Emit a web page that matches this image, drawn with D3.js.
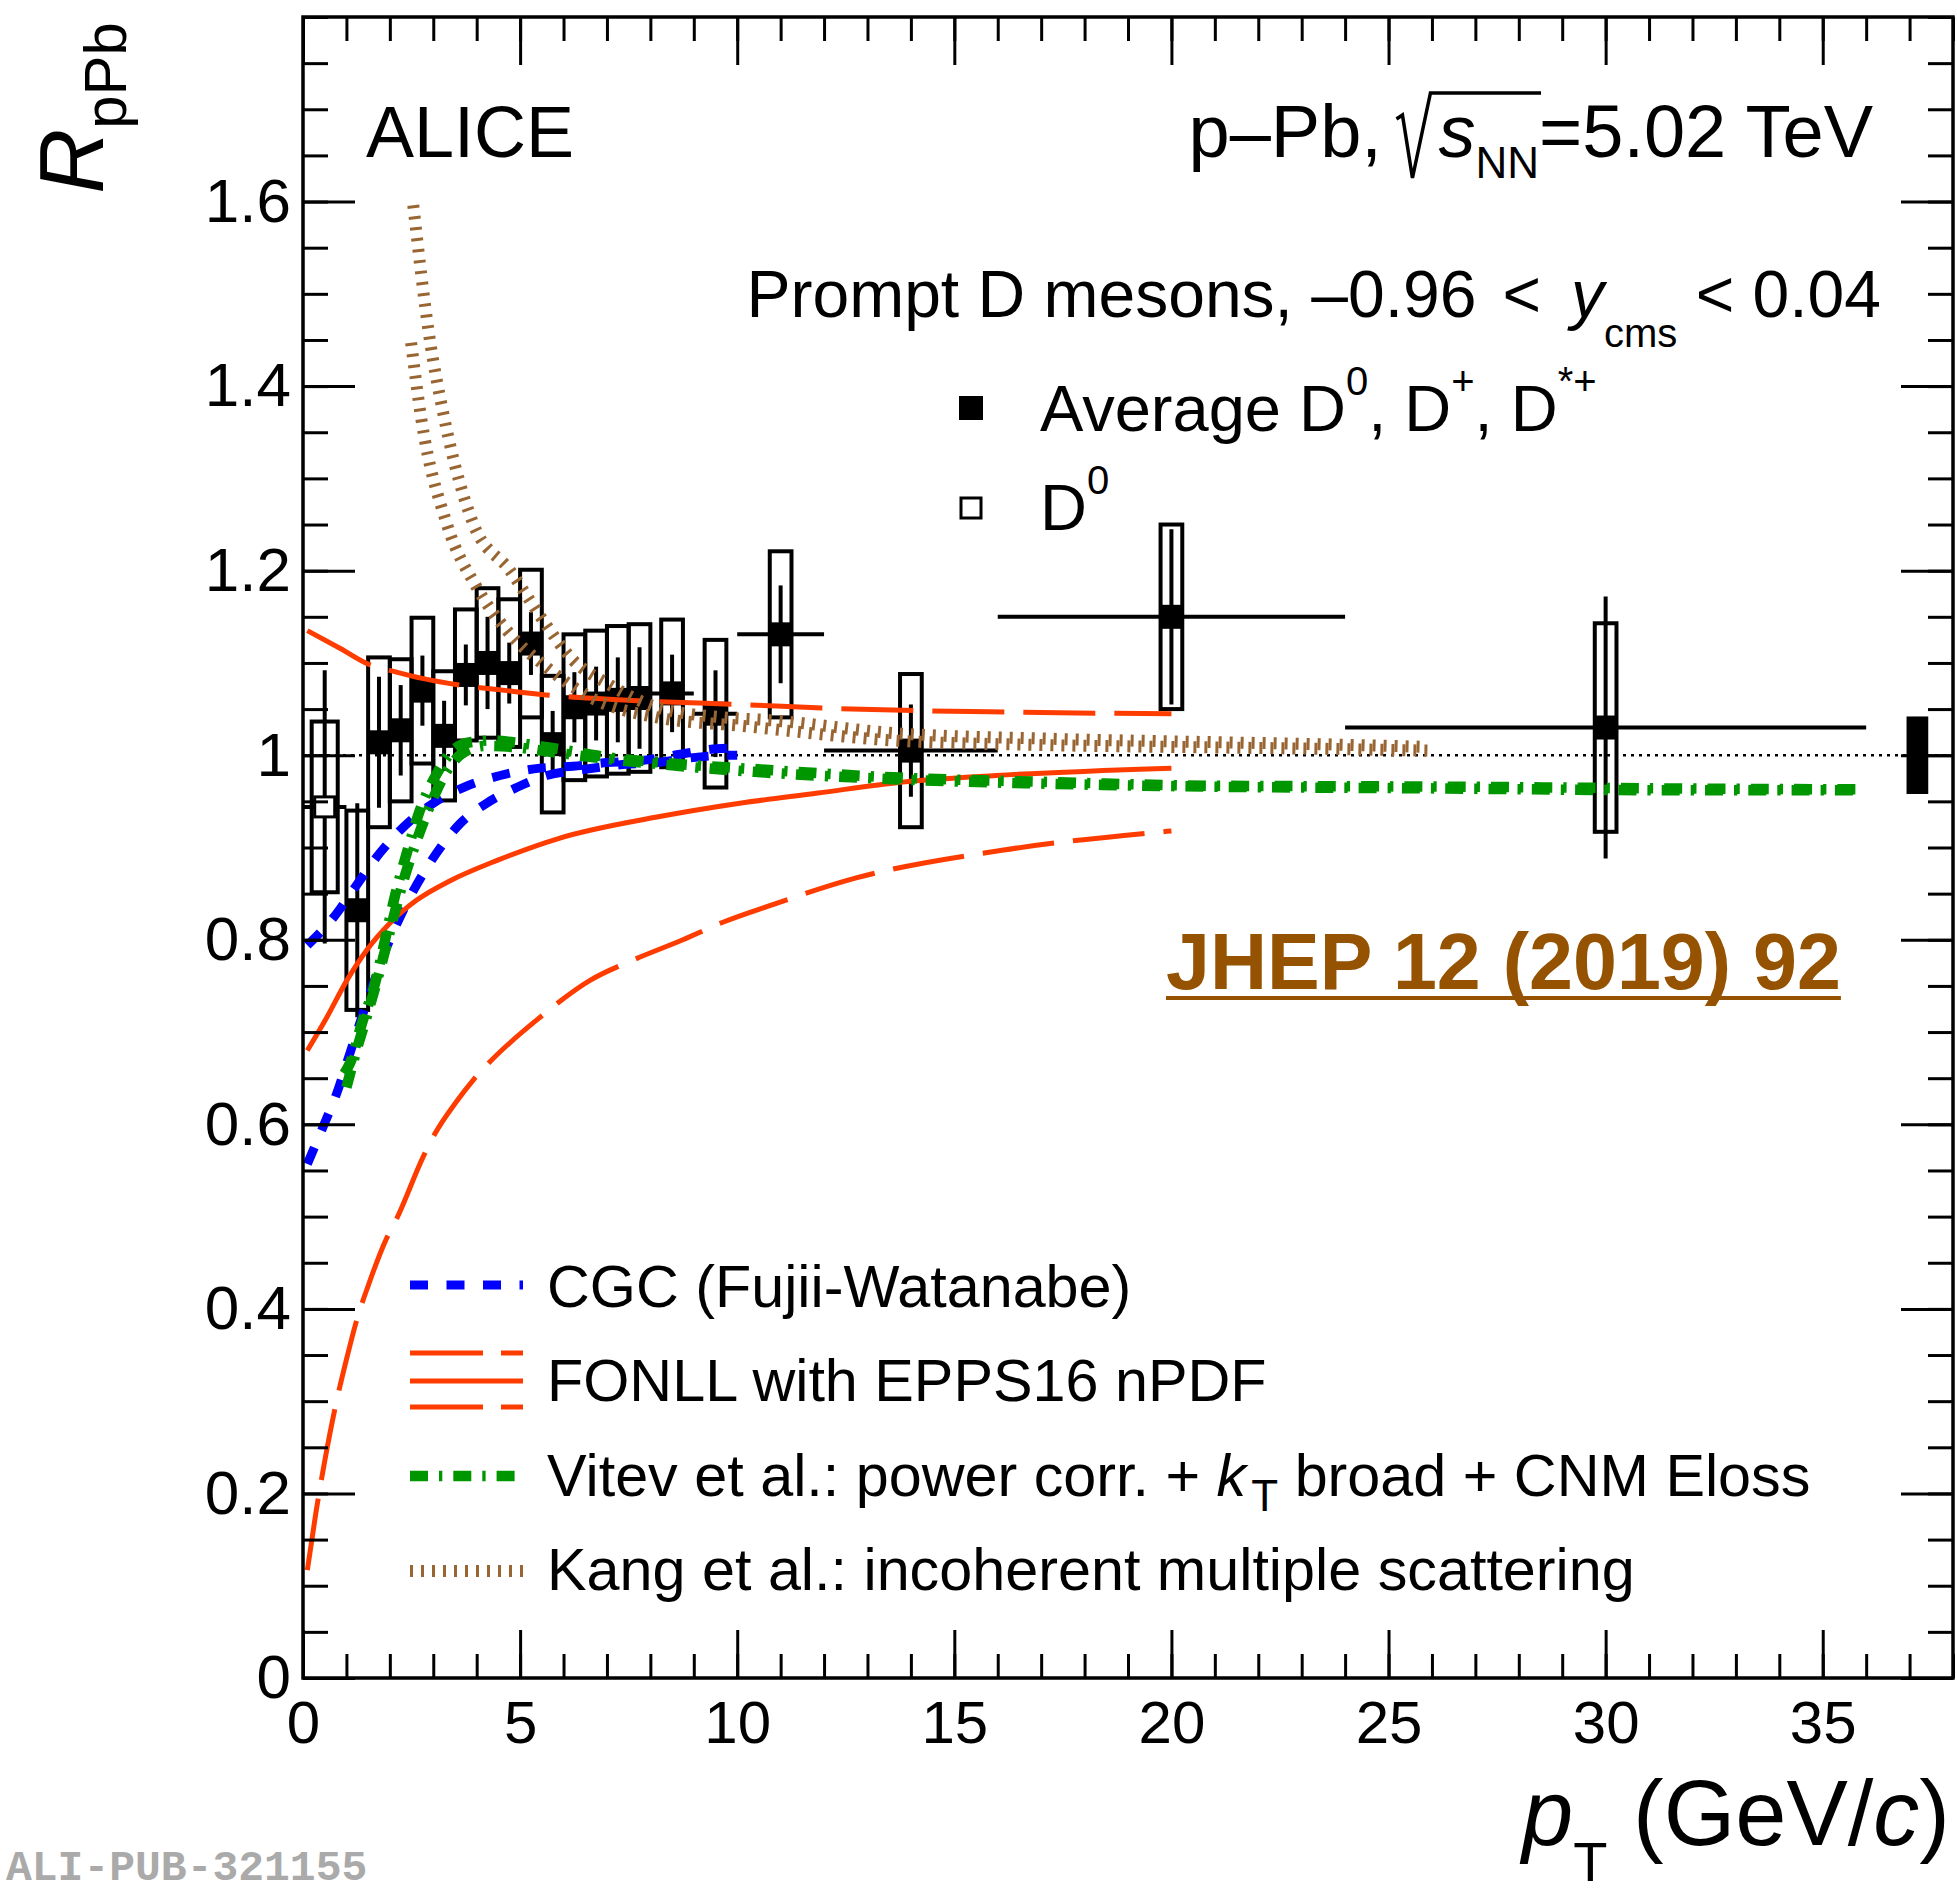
<!DOCTYPE html>
<html><head><meta charset="utf-8">
<script src="https://cdn.jsdelivr.net/npm/d3@7"></script>
<style>
body{margin:0;background:#fff}
svg{display:block}
text{font-family:"Liberation Sans",Arial,Helvetica,sans-serif;white-space:pre}
</style>
</head><body>
<svg id="c" width="1957" height="1895"></svg>
<script>
// ---------------- data ----------------
const xMajorTicks = [0,5,10,15,20,25,30,35];
const xTickLabels = ["0","5","10","15","20","25","30","35"];
const yMajorTicks = [0,0.2,0.4,0.6,0.8,1.0,1.2,1.4,1.6];
const yTickLabels = ["0","0.2","0.4","0.6","0.8","1","1.2","1.4","1.6"];

// Average D0, D+, D*+
const avgPt     = [1.25,1.75,2.25,2.75,3.25,3.75,4.25,4.75,5.25,5.75,6.25,6.75,7.25,7.75,8.5,9.5,11,14,20,30];
const avgPtLow  = [1,1.5,2,2.5,3,3.5,4,4.5,5,5.5,6,6.5,7,7.5,8,9,10,12,16,24];
const avgPtHigh = [1.5,2,2.5,3,3.5,4,4.5,5,5.5,6,6.5,7,7.5,8,9,10,12,16,24,36];
const avgR      = [0.832,1.014,1.027,1.070,1.021,1.087,1.100,1.089,1.121,1.012,1.052,1.056,1.060,1.062,1.067,1.045,1.131,1.005,1.150,1.030];
const avgStat   = [0.116,0.071,0.049,0.038,0.038,0.033,0.050,0.033,0.034,0.036,0.038,0.040,0.046,0.055,0.042,0.047,0.053,0.050,0.095,0.142];
const avgSyst   = [0.108,0.092,0.077,0.079,0.070,0.071,0.081,0.080,0.080,0.074,0.079,0.079,0.080,0.080,0.080,0.080,0.090,0.083,0.100,0.113];

// D0 only
const d0Pt = [0.5], d0PtLow = [0], d0PtHigh = [1];
const d0R = [0.944], d0Stat = [0.148], d0Syst = [0.0925];

// global normalisation uncertainty
const normPt = [37.18], normUnc = [0.042];

// CGC (Fujii-Watanabe)
const cgcHiPt = [0.1,0.7,1.23,1.77,2.31,3.0,3.69,4.54,5.46,6.22,7.0,7.76,8.68,9.53,10];
const cgcHiR  = [0.794,0.824,0.859,0.894,0.922,0.948,0.965,0.978,0.986,0.988,0.992,0.994,1.001,1.007,1.008];
const cgcLoPt = [0.1,0.46,0.78,1.08,1.54,1.93,2.31,2.92,3.62,4.23,4.92,5.61,6.53,7.37,8.15,8.9,9.83,10];
const cgcLoR  = [0.557,0.597,0.634,0.677,0.742,0.792,0.832,0.883,0.926,0.948,0.965,0.978,0.985,0.990,0.992,0.997,1.000,1.000];

// FONLL with EPPS16
const fonllHiPt = [0.1,0.85,1.54,2.0,2.77,3.62,4.7,5.69,7.76,10.06,12,15.8,20];
const fonllHiR  = [1.135,1.116,1.098,1.092,1.083,1.076,1.070,1.065,1.059,1.055,1.051,1.047,1.045];
const fonllCePt = [0.1,0.55,1.01,1.47,2.0,2.62,3.39,4.47,5.9,8.15,10.06,11.86,13.63,15.96,20];
const fonllCeR  = [0.680,0.716,0.756,0.789,0.818,0.843,0.864,0.886,0.910,0.933,0.948,0.959,0.970,0.978,0.986];
const fonllLoPt = [0.1,0.3,0.5,0.75,1.0,1.25,1.5,1.93,2.16,2.77,3.04,3.54,3.92,4.31,5.46,6.61,7.6,8.75,9.67,10.75,12.74,16.1,20];
const fonllLoR  = [0.117,0.180,0.235,0.295,0.345,0.390,0.425,0.477,0.498,0.565,0.590,0.625,0.648,0.668,0.716,0.756,0.778,0.800,0.819,0.837,0.867,0.897,0.918];

// Vitev et al.
const vitAPt = [0.95,1.08,1.36,1.66,1.89,2.12,2.39,2.69,3.08,3.45,3.85,4.38,4.84,5.85,7.0,8.5,10.4,13.6,17.2,20.8,26.2,31.5,35.9];
const vitAR  = [0.655,0.666,0.710,0.753,0.800,0.848,0.894,0.940,0.980,1.005,1.014,1.016,1.014,1.007,0.998,0.991,0.985,0.976,0.971,0.967,0.966,0.964,0.963];
const vitBPt = [1.0,1.2,1.5,1.8,2.05,2.3,2.6,2.95,3.3,3.7,4.2,4.8,5.8,7.0,8.5,10.4,13.6,17.2,20.8,26.2,31.5,35.9];
const vitBR  = [0.640,0.675,0.722,0.772,0.818,0.862,0.905,0.948,0.982,1.003,1.010,1.009,1.003,0.996,0.989,0.982,0.974,0.969,0.966,0.964,0.962,0.962];

// Kang et al.
const kangHiPt = [2.54,2.9,3.25,3.92,4.77,5.53,6.22,7.0,8.15,9.67,10.75,13.6,17.1,20,23.4,25.9];
const kangHiR  = [1.596,1.457,1.366,1.251,1.200,1.146,1.103,1.078,1.052,1.041,1.038,1.024,1.018,1.015,1.012,1.009];
const kangLoPt = [2.49,2.72,3.31,4.0,4.7,5.62,6.61,8.15,10.06,13.6,17.1,20,23.4,25.9];
const kangLoR  = [1.447,1.366,1.251,1.182,1.135,1.095,1.063,1.041,1.032,1.016,1.011,1.009,1.007,1.005];

// ---------------- drawing ----------------
const W = 1957, H = 1895;
const plotL = 303, plotR = 1953, plotT = 17, plotB = 1678;
const svg = d3.select('#c');
svg.append('rect').attr('width', W).attr('height', H).attr('fill', '#fff');

const x = d3.scaleLinear().domain([0, 38]).range([plotL, plotR]);
const y = d3.scaleLinear().domain([0, 1.8]).range([plotB, plotT]);

const C_BLUE = '#0000ff', C_RED = '#ff3c00', C_GREEN = '#009600', C_BROWN = '#996633';

// reference line at 1
svg.append('line').attr('x1', x(0)).attr('x2', x(38)).attr('y1', y(1)).attr('y2', y(1))
  .attr('stroke', '#000').attr('stroke-width', 2.5).attr('stroke-dasharray', '3,5');

// normalisation box
svg.append('g').selectAll('rect').data(d3.zip(normPt, normUnc)).join('rect')
  .attr('x', d => x(d[0] - 0.25)).attr('width', d => x(d[0] + 0.25) - x(d[0] - 0.25))
  .attr('y', d => y(1 + d[1])).attr('height', d => y(1 - d[1]) - y(1 + d[1]))
  .attr('fill', '#000');

function drawSeries(pt, lo, hi, r, stat, syst, boxHalf, filled) {
  const rows = pt.map((p, i) => ({p, lo: lo[i], hi: hi[i], r: r[i], st: stat[i], sy: syst[i]}));
  const g = svg.append('g');
  g.selectAll('rect.sys').data(rows).join('rect').attr('class', 'sys')
    .attr('x', d => x(d.p - boxHalf)).attr('width', d => x(d.p + boxHalf) - x(d.p - boxHalf))
    .attr('y', d => y(d.r + d.sy)).attr('height', d => y(d.r - d.sy) - y(d.r + d.sy))
    .attr('fill', 'none').attr('stroke', '#000').attr('stroke-width', 4);
  g.selectAll('line.st').data(rows).join('line').attr('class', 'st')
    .attr('x1', d => x(d.p)).attr('x2', d => x(d.p))
    .attr('y1', d => y(d.r + d.st)).attr('y2', d => y(d.r - d.st))
    .attr('stroke', '#000').attr('stroke-width', 4);
  g.selectAll('line.ex').data(rows).join('line').attr('class', 'ex')
    .attr('x1', d => x(d.lo)).attr('x2', d => x(d.hi))
    .attr('y1', d => y(d.r)).attr('y2', d => y(d.r))
    .attr('stroke', '#000').attr('stroke-width', 4);
  if (filled) {
    g.selectAll('rect.mk').data(rows).join('rect').attr('class', 'mk')
      .attr('x', d => x(d.p) - 12).attr('y', d => y(d.r) - 12)
      .attr('width', 24).attr('height', 24).attr('fill', '#000');
  } else {
    g.selectAll('rect.mk').data(rows).join('rect').attr('class', 'mk')
      .attr('x', d => x(d.p) - 10).attr('y', d => y(d.r) - 10)
      .attr('width', 20).attr('height', 20).attr('fill', '#fff')
      .attr('stroke', '#000').attr('stroke-width', 3);
  }
}
drawSeries(d0Pt, d0PtLow, d0PtHigh, d0R, d0Stat, d0Syst, 0.3, false);
drawSeries(avgPt, avgPtLow, avgPtHigh, avgR, avgStat, avgSyst, 0.25, true);

// model curves
const lineGen = d3.line().x(d => x(d[0])).y(d => y(d[1])).curve(d3.curveMonotoneX);
function drawCurve(pts, vals, color, width, dash) {
  svg.append('path').attr('d', lineGen(d3.zip(pts, vals)))
    .attr('fill', 'none').attr('stroke', color).attr('stroke-width', width)
    .attr('stroke-dasharray', dash || null);
}
drawCurve(cgcHiPt, cgcHiR, C_BLUE, 9, '18,18.5');
drawCurve(cgcLoPt, cgcLoR, C_BLUE, 9, '18,18.5');
drawCurve(fonllHiPt, fonllHiR, C_RED, 5, '72,19');
drawCurve(fonllCePt, fonllCeR, C_RED, 5, null);
drawCurve(fonllLoPt, fonllLoR, C_RED, 5, '72,19');
drawCurve(vitAPt, vitAR, C_GREEN, 10.5, '18,11,3.3,11');
drawCurve(vitBPt, vitBR, C_GREEN, 10.5, '18,11,3.3,11');
drawCurve(kangHiPt, kangHiR, C_BROWN, 12, '3,8');
drawCurve(kangLoPt, kangLoR, C_BROWN, 12, '3,8');

// axes
function styleAxis(g, fs) {
  g.select('.domain').remove();
  g.selectAll('.tick line').attr('stroke', '#000').attr('stroke-width', 3);
  g.selectAll('.tick text').attr('font-size', fs).attr('fill', '#000');
}
const xMinor = d3.range(0, 39, 1);
const yMinor = d3.range(0, 1.8001, 0.05);
styleAxis(svg.append('g').attr('transform', `translate(0,${plotB})`)
  .call(d3.axisBottom(x).tickValues(xMinor).tickSize(-24).tickFormat(() => '')), 60);
styleAxis(svg.append('g').attr('transform', `translate(0,${plotB})`)
  .call(d3.axisBottom(x).tickValues(xMajorTicks).tickSize(-48).tickPadding(22)
    .tickFormat((d, i) => xTickLabels[i])), 60);
styleAxis(svg.append('g').attr('transform', `translate(0,${plotT})`)
  .call(d3.axisTop(x).tickValues(xMinor).tickSize(-24).tickFormat(() => '')), 60);
styleAxis(svg.append('g').attr('transform', `translate(0,${plotT})`)
  .call(d3.axisTop(x).tickValues(xMajorTicks).tickSize(-48).tickFormat(() => '')), 60);
styleAxis(svg.append('g').attr('transform', `translate(${plotL},0)`)
  .call(d3.axisLeft(y).tickValues(yMinor).tickSize(-25).tickFormat(() => '')), 62);
styleAxis(svg.append('g').attr('transform', `translate(${plotL},0)`)
  .call(d3.axisLeft(y).tickValues(yMajorTicks).tickSize(-52).tickPadding(12)
    .tickFormat((d, i) => yTickLabels[i])), 62);
styleAxis(svg.append('g').attr('transform', `translate(${plotR},0)`)
  .call(d3.axisRight(y).tickValues(yMinor).tickSize(-25).tickFormat(() => '')), 62);
styleAxis(svg.append('g').attr('transform', `translate(${plotR},0)`)
  .call(d3.axisRight(y).tickValues(yMajorTicks).tickSize(-52).tickFormat(() => '')), 62);
svg.append('rect').attr('x', plotL).attr('y', plotT).attr('width', plotR - plotL).attr('height', plotB - plotT)
  .attr('fill', 'none').attr('stroke', '#000').attr('stroke-width', 3.5);

// rich text helper
function addText(xp, yp, size, anchor, parts, opts = {}) {
  const t = svg.append('text').attr('x', xp).attr('y', yp).attr('font-size', size)
    .attr('text-anchor', anchor).attr('fill', opts.fill || '#000');
  if (opts.weight) t.attr('font-weight', opts.weight);
  if (opts.transform) t.attr('transform', opts.transform);
  let shift = 0;
  parts.forEach(p => {
    const s = t.append('tspan').text(p.t);
    const want = p.dy || 0;
    if (want !== shift) { s.attr('dy', want - shift); shift = want; }
    if (p.size) s.attr('font-size', p.size);
    if (p.it) s.attr('font-style', 'italic');
    if (p.dx) s.attr('dx', p.dx);
  });
  return t;
}

// axis titles
addText(0, 0, 90, 'end', [{t: 'R', it: true}, {t: 'pPb', size: 60, dy: 23}],
  {transform: 'translate(103,22) rotate(-90)'});
addText(1950, 1845, 92, 'end', [{t: 'p', it: true}, {t: 'T', size: 56, dy: 36},
  {t: ' (GeV/', dy: 0}, {t: 'c', it: true}, {t: ')'}]);

// header texts
addText(366, 157, 72, 'start', [{t: 'ALICE'}]);
const energy = addText(1873, 157, 74, 'end', [{t: 'p–Pb, '}, {t: 's', it: true, dx: 36},
  {t: 'NN', size: 44, dy: 21}, {t: '=5.02 TeV', dy: 0}]);
{
  const n = energy.node();
  const sx = n.getStartPositionOfChar(6).x;
  const nnEnd = n.getEndPositionOfChar(8).x;
  const b = 157;
  svg.append('path')
    .attr('d', `M${sx - 42},${b - 38} L${sx - 36},${b - 42} L${sx - 26},${b + 21} L${sx - 8},${b - 64} L${nnEnd + 2},${b - 64}`)
    .attr('fill', 'none').attr('stroke', '#000').attr('stroke-width', 3.5);
}
addText(1881, 317, 66, 'end', [{t: 'Prompt D mesons, –0.96'}, {t: '<', dx: 26}, {t: 'y', it: true, dx: 30},
  {t: 'cms', size: 40, dy: 30}, {t: ' < 0.04', dy: 0}]);

// data legend
svg.append('rect').attr('x', 959).attr('y', 396).attr('width', 24).attr('height', 24).attr('fill', '#000');
svg.append('rect').attr('x', 961).attr('y', 498).attr('width', 20).attr('height', 20)
  .attr('fill', '#fff').attr('stroke', '#000').attr('stroke-width', 3);
addText(1040, 431, 65, 'start', [{t: 'Average D'}, {t: '0', size: 40, dy: -36},
  {t: ', D', dy: 0}, {t: '+', size: 40, dy: -36}, {t: ', D', dy: 0}, {t: '*+', size: 40, dy: -36}]);
addText(1040, 530, 65, 'start', [{t: 'D'}, {t: '0', size: 40, dy: -36}]);

// publication label
const jhep = addText(1166, 989, 79, 'start', [{t: 'JHEP 12 (2019) 92'}], {fill: '#955200', weight: 'bold'});
{
  const len = jhep.node().getComputedTextLength();
  svg.append('line').attr('x1', 1166).attr('x2', 1166 + len).attr('y1', 998).attr('y2', 998)
    .attr('stroke', '#955200').attr('stroke-width', 4);
}

// model legend
const legX1 = 410, legX2 = 523, legTextX = 547;
function legLine(yy, color, width, dash) {
  svg.append('line').attr('x1', legX1).attr('x2', legX2).attr('y1', yy).attr('y2', yy)
    .attr('stroke', color).attr('stroke-width', width).attr('stroke-dasharray', dash || null);
}
legLine(1285, C_BLUE, 9, '18,18.5');
legLine(1353, C_RED, 5, '73,18');
legLine(1381, C_RED, 5, null);
legLine(1407, C_RED, 5, '73,18');
legLine(1476, C_GREEN, 10.5, '18,11,3.3,11');
legLine(1571, C_BROWN, 12, '3,8');
addText(legTextX, 1307, 59.3, 'start', [{t: 'CGC (Fujii-Watanabe)'}]);
addText(legTextX, 1401, 59.3, 'start', [{t: 'FONLL with EPPS16 nPDF'}]);
addText(legTextX, 1496, 59.3, 'start', [{t: 'Vitev et al.: power corr. + '}, {t: 'k', it: true},
  {t: 'T', size: 44, dy: 15, dx: 5}, {t: ' broad + CNM Eloss', dy: 0}]);
addText(legTextX, 1590, 59.3, 'start', [{t: 'Kang et al.: incoherent multiple scattering'}]);

// watermark
svg.append('text').attr('x', 6).attr('y', 1880).attr('font-size', 43)
  .style('font-family', '"Liberation Mono", monospace')
  .attr('font-weight', 'bold').attr('fill', '#aaaaaa').text('ALI-PUB-321155');
</script>
</body></html>
